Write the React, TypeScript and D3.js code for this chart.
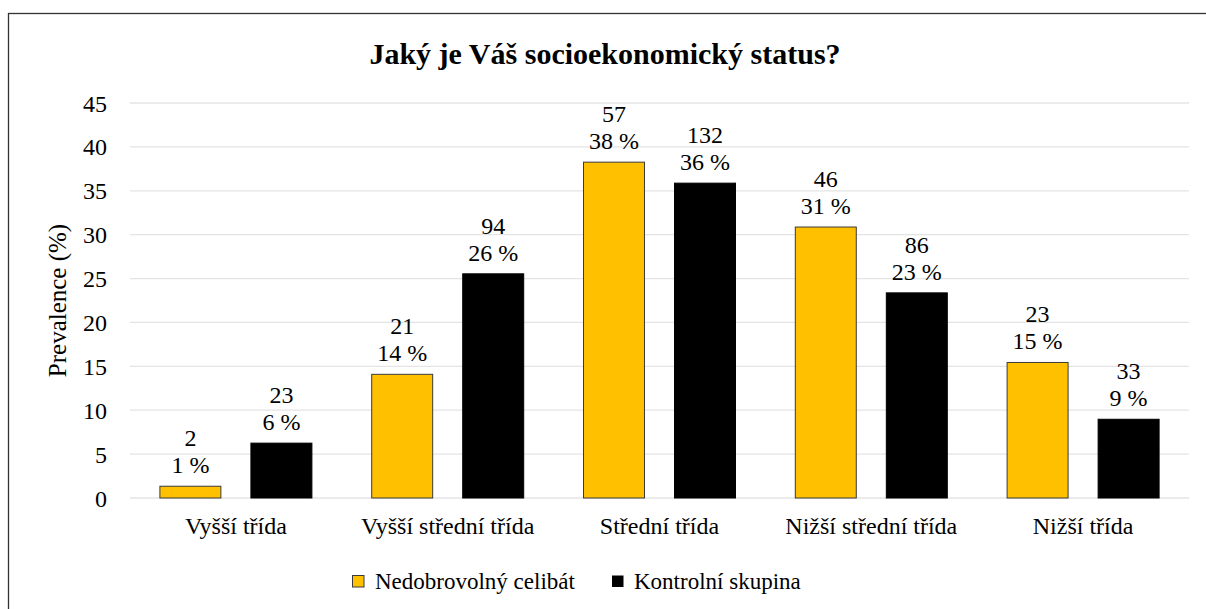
import React from "react";
import * as d3 from "d3";

const title = "Jaký je Váš socioekonomický status?";
const categories = ["Vyšší třída", "Vyšší střední třída", "Střední třída", "Nižší střední třída", "Nižší třída"];
const seriesNames = ["Nedobrovolný celibát", "Kontrolní skupina"];
const seriesColors = ["#FFC000", "#000000"];
const seriesStroke = ["#3a3a3a", "#000000"];
const celibatCounts = [2, 21, 57, 46, 23];
const celibatPct = [1.34, 14.09, 38.26, 30.87, 15.44];
const kontrolaCounts = [23, 94, 132, 86, 33];
const kontrolaPct = [6.25, 25.54, 35.87, 23.37, 8.97];
const yTicks = [0, 5, 10, 15, 20, 25, 30, 35, 40, 45];
const yTitle = "Prevalence (%)";

const W = 1206;
const H = 609;
const FONT = "Liberation Serif";

export default function App() {
  const left = 130;
  const right = 1189;
  const y = d3.scaleLinear().domain([0, 45]).range([498, 103]);
  const x0 = d3.scaleBand<string>().domain(categories).range([left, right]).padding(0);
  const groupW = 152;
  const x1 = d3.scaleBand<string>().domain(seriesNames).range([0, groupW]).paddingInner(0.33);

  const counts = [celibatCounts, kontrolaCounts];
  const pcts = [celibatPct, kontrolaPct];
  const txt = { fontFamily: FONT };

  return (
    <svg width={W} height={H} fontFamily={FONT} style={{ position: "absolute", left: 0, top: 0, background: "#fff" }}>
      <rect x={8.5} y={13.5} width={1300} height={700} fill="#fff" stroke="#333" strokeWidth={1.3} />
      <text x={605} y={64} textAnchor="middle" fontSize={30} fontWeight="bold" fill="#000" style={txt}>
        {title}
      </text>
      {yTicks.map((t) => (
        <g key={t}>
          <line x1={left} x2={right} y1={y(t)} y2={y(t)} stroke="#e4e4e4" strokeWidth={1.3} />
          <text x={107} y={y(t) + 8.5} textAnchor="end" fontSize={24} fill="#000" style={txt}>
            {t}
          </text>
        </g>
      ))}
      <text
        transform={`translate(66,${(y(0) + y(45)) / 2}) rotate(-90)`}
        textAnchor="middle"
        fontSize={25}
        fill="#000"
        style={txt}
      >
        {yTitle}
      </text>
      {categories.map((c, i) => {
        const cx = (x0(c) as number) + x0.bandwidth() / 2;
        const gx = cx - groupW / 2;
        return (
          <g key={c}>
            {seriesNames.map((s, j) => {
              const bx = gx + (x1(s) as number);
              const v = pcts[j][i];
              const top = y(v);
              const bcx = bx + x1.bandwidth() / 2;
              return (
                <g key={s}>
                  <rect
                    x={bx}
                    y={top}
                    width={x1.bandwidth()}
                    height={y(0) - top}
                    fill={seriesColors[j]}
                    stroke={seriesStroke[j]}
                    strokeWidth={1}
                  />
                  <text x={bcx} y={top - 40} textAnchor="middle" fontSize={24} fill="#000" style={txt}>
                    {counts[j][i]}
                  </text>
                  <text x={bcx} y={top - 13} textAnchor="middle" fontSize={24} fill="#000" style={txt}>
                    {`${Math.round(v)} %`}
                  </text>
                </g>
              );
            })}
            <text x={cx} y={534} textAnchor="middle" fontSize={24} fill="#000" style={txt}>
              {c}
            </text>
          </g>
        );
      })}
      <g>
        <rect x={352.5} y={575.5} width={11.5} height={11.5} fill={seriesColors[0]} stroke="#3a3a3a" strokeWidth={1} />
        <text x={375} y={589} fontSize={23} fill="#000" style={txt}>
          {seriesNames[0]}
        </text>
        <rect x={612} y={575.5} width={11.5} height={11.5} fill={seriesColors[1]} />
        <text x={634} y={589} fontSize={23} fill="#000" style={txt}>
          {seriesNames[1]}
        </text>
      </g>
    </svg>
  );
}
